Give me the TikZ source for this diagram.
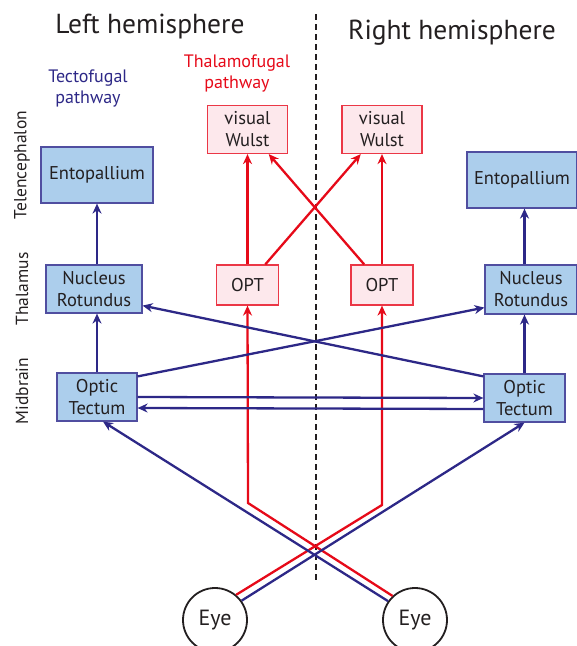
\documentclass[tikz,border=0pt]{standalone}
\usepackage{fontspec}
\setmainfont{PT Sans}
\usetikzlibrary{arrows.meta}
\definecolor{tectoline}{RGB}{45,40,135}
\definecolor{tectoedge}{RGB}{80,78,160}
\definecolor{tectofill}{RGB}{172,206,236}
\definecolor{thalaline}{RGB}{230,10,25}
\definecolor{thalaedge}{RGB}{235,55,70}
\definecolor{thalafill}{RGB}{253,232,236}
\definecolor{inktext}{RGB}{35,31,32}
\tikzset{
  tectobox/.style={rectangle, draw=tectoedge, fill=tectofill, line width=1.2pt,
                   align=center, inner sep=0pt, text=inktext,
                   font=\fontsize{18.5}{22}\selectfont},
  thalabox/.style={tectobox, draw=thalaedge, fill=thalafill},
  tectolink/.style={draw=tectoline, line width=2.3pt,
                    -{Stealth[length=10pt,width=9pt]}},
  thalalink/.style={tectolink, draw=thalaline},
  eyenode/.style={circle, draw=inktext, fill=white, line width=1.8pt,
                  minimum size=64pt, inner sep=0pt, text=inktext,
                  font=\fontsize{22}{24}\selectfont},
  hemititle/.style={text=inktext, font=\fontsize{27.5}{30}\selectfont},
  pathlabel/.style={align=center, font=\fontsize{18}{21}\selectfont},
  regionlabel/.style={rotate=90, text=inktext, font=\fontsize{17.5}{20}\selectfont}
}
\begin{document}
\begin{tikzpicture}[
    x=1pt, y=-1pt,
    midline/.style={draw=inktext, line width=2.2pt, dash pattern=on 6pt off 4pt}
]
  \useasboundingbox (0,0) rectangle (577,646);
  \node[hemititle] (titleL) at (150,27) {Left hemisphere};
  \node[hemititle] (titleR) at (452,33) {Right hemisphere};
  \coordinate (midtop) at (316,14);
  \coordinate (midbot) at (316,582);
  \draw[midline] (midtop) -- (midbot);
  \node[pathlabel, text=tectoline] (tecto) at (88,88) {Tectofugal\\pathway};
  \node[pathlabel, text=thalaline] (thala) at (237,73) {Thalamofugal\\pathway};
  \node[regionlabel] (telen) at (22,165) {Telencephalon};
  \node[regionlabel] (thalam) at (22,289) {Thalamus};
  \node[regionlabel] (midb) at (22,391) {Midbrain};
  % tectofugal boxes
  \node[tectobox, minimum width=112pt, minimum height=56pt] (entL) at (97,175) {Entopallium};
  \node[tectobox, minimum width=96pt, minimum height=48pt] (nrL) at (94,289) {Nucleus\\Rotundus};
  \node[tectobox, minimum width=80pt, minimum height=48pt] (otL) at (97,397) {Optic\\Tectum};
  \node[tectobox, minimum width=110pt, minimum height=56pt] (entR) at (522,180) {Entopallium};
  \node[tectobox, minimum width=92pt, minimum height=49pt] (nrR) at (531,289.5) {Nucleus\\Rotundus};
  \node[tectobox, minimum width=81pt, minimum height=48pt] (otR) at (524.5,398) {Optic\\Tectum};
  % thalamofugal boxes
  \foreach \s/\x in {L/247.5, R/382} {
    \node[thalabox, minimum width=80pt, minimum height=48pt] (wulst\s) at (\x,129.5) {visual\\Wulst};
    \node[thalabox, minimum width=62pt, minimum height=40pt] (opt\s) at (\x,285) {OPT};
    \draw[thalalink] (opt\s) -- (wulst\s);
  }
  \draw[thalalink] (optL) -- (wulstR);
  \draw[thalalink] (optR) -- (wulstL);
  \node[eyenode] (eyeL) at (215,620) {Eye};
  \node[eyenode] (eyeR) at (415,620) {Eye};
  \coordinate (bendL) at (248,503);
  \coordinate (bendR) at (382,505);
  \draw[thalalink] (eyeL.50) -- (bendR) -- (optR.south);
  \draw[thalalink] (eyeR.133) -- (bendL) -- (optL.south);
  % tectofugal links
  \draw[tectolink] (otL.north) -- (otL.north |- nrL.south);
  \draw[tectolink] (entL.south |- nrL.north) -- (entL.south);
  \draw[tectolink] (otR.north) -- (otR.north |- nrR.south);
  \draw[tectolink] (otR.north |- nrR.north) -- (otR.north |- entR.south);
  \draw[tectolink] ([yshift=-4pt]otL.north east) -- ([yshift=7pt]nrR.south west);
  \draw[tectolink] ([yshift=-3pt]otR.north west) -- ([yshift=8pt]nrL.south east);
  \draw[tectolink] (otL.east) -- (otR.west);
  \draw[tectolink] ([yshift=-11pt]otR.west) -- ([yshift=-11pt]otL.east);
  \draw[tectolink] (eyeL.36) -- (otR.south);
  \draw[tectolink] (eyeR.145) -- ([xshift=6pt]otL.south);
\end{tikzpicture}
\end{document}
